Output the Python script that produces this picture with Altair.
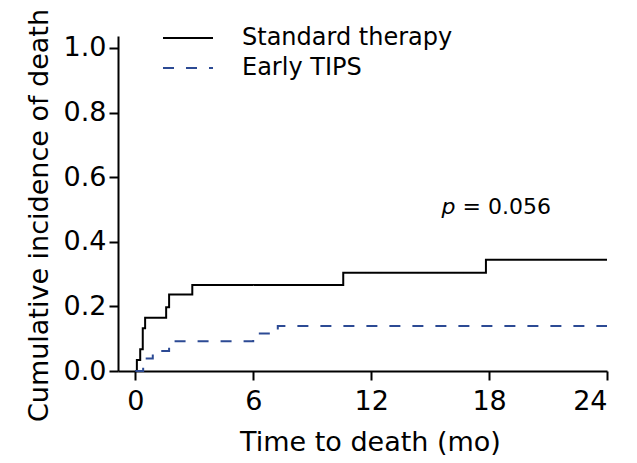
import altair as alt
import pandas as pd

# Step data (months, cumulative incidence)
std_t = [0, 0.08, 0.25, 0.38, 0.5, 1.57, 1.72, 2.9, 10.58, 17.84, 24]
std_y = [0, 0.034, 0.067, 0.132, 0.165, 0.197, 0.237, 0.266, 0.304, 0.344, 0.344]
tips_t = [0, 0.4, 0.89, 1.72, 6.0, 7.25, 24]
tips_y = [0, 0.039, 0.062, 0.092, 0.116, 0.139, 0.139]
groups = ["Standard therapy", "Early TIPS"]
colors = ["#000000", "#2c4a94"]
dashes = [[1, 0], [11, 12]]
x_ticks = [0, 6, 12, 18, 24]
y_ticks = [0.0, 0.2, 0.4, 0.6, 0.8, 1.0]
p_label_x = [15.58]
p_label_y = [0.485]

df = pd.DataFrame(
    {"t": std_t + tips_t,
     "y": std_y + tips_y,
     "group": [groups[0]] * len(std_t) + [groups[1]] * len(tips_t)}
)
ann = pd.DataFrame({"x": p_label_x, "y": p_label_y})

FONT = "DejaVu Sans"

xscale = alt.Scale(domain=[-0.88, 24], nice=False, zero=False)
yscale = alt.Scale(domain=[0, 1.037], nice=False)

lines = alt.Chart(df).mark_line(interpolate="step-after", strokeWidth=2).encode(
    x=alt.X("t:Q", scale=xscale,
            axis=alt.Axis(values=x_ticks, title="Time to death (mo)", format="d",
                          titleX=252, titleY=79, titleBaseline="alphabetic",
                          titleAlign="center", labelPadding=8)),
    y=alt.Y("y:Q", scale=yscale,
            axis=alt.Axis(values=y_ticks, format=".1f", title="Cumulative incidence of death",
                          titleX=-71, titleY=179, titleBaseline="alphabetic",
                          titleAlign="center", titleAngle=270, labelPadding=3)),
    color=alt.Color("group:N", scale=alt.Scale(domain=groups, range=colors),
                    legend=alt.Legend(title=None, orient="none", legendX=54, legendY=-14,
                                      symbolType="M-1.667,0L1.667,0", symbolSize=900,
                                      symbolStrokeWidth=2, labelOffset=38,
                                      rowPadding=2, padding=0, labelLimit=0,
                                      labelFont=FONT, labelFontSize=24,
                                      labelColor="black")),
    strokeDash=alt.StrokeDash("group:N", scale=alt.Scale(domain=groups, range=dashes),
                              legend=None),
)

p_text = alt.Chart(ann).mark_text(
    text="p", fontStyle="italic", font=FONT, fontSize=22, align="left",
    baseline="alphabetic", color="black"
).encode(x=alt.X("x:Q", scale=xscale), y=alt.Y("y:Q", scale=yscale))

val_text = alt.Chart(ann).mark_text(
    text="= 0.056", font=FONT, fontSize=22, align="left", dx=21,
    baseline="alphabetic", color="black"
).encode(x=alt.X("x:Q", scale=xscale), y=alt.Y("y:Q", scale=yscale))

chart = alt.layer(lines, p_text, val_text).properties(
    width=489, height=335,
    autosize=alt.AutoSizeParams(type="none"),
    padding={"left": 110, "top": 28, "right": 22, "bottom": 84},
).configure_view(stroke=None).configure_axis(
    grid=False, domainColor="black", domainWidth=2, tickColor="black", tickWidth=2,
    tickSize=9, labelFont=FONT, labelFontSize=27, labelColor="black",
    titleFont=FONT, titleFontSize=27, titleFontWeight="normal", titleColor="black",
).configure_axisY(titleFontSize=27)

chart.save("out.html", embed_options={"renderer": "svg", "actions": False})
